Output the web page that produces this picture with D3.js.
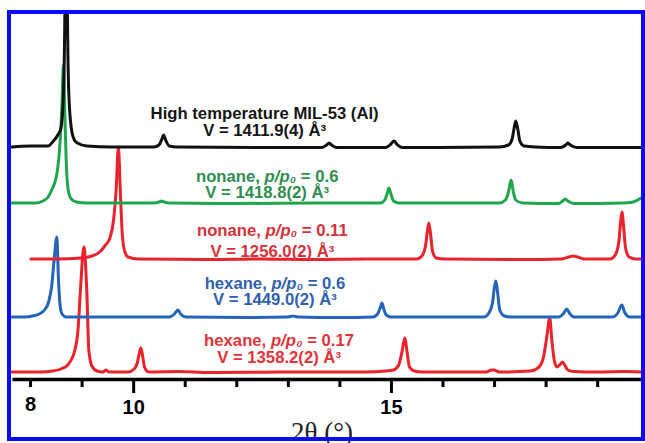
<!DOCTYPE html>
<html>
<head>
<meta charset="utf-8">
<script src="https://cdn.jsdelivr.net/npm/d3@7/dist/d3.min.js"></script>
<style>
  html, body { margin: 0; padding: 0; background: #fff; }
  svg { display: block; }
  text { font-family: "Liberation Sans", Arial, sans-serif; font-weight: bold; }
</style>
</head>
<body>
<svg id="chart" width="645" height="443"></svg>
<script>
// Powder patterns, [2θ (°), intensity (a.u.)], each above its own baseline.
const htMIL53 = [
  [7.65,1],[8.0,2],[8.35,2],[8.42,5],[8.55,14],[8.60,20],[8.65,57],[8.675,133],[8.70,300],
  [8.725,133],[8.75,57],[8.80,20],[8.86,8],[8.92,5],[9.1,2],[9.6,1],
  [10.40,1],[10.50,3],[10.55,8],[10.59,13],[10.63,8],[10.70,2],[10.85,1],
  [12.5,0.5],[13.65,0.5],[13.75,3],[13.80,5],[13.85,3],[13.95,0.5],
  [14.90,0.5],[15.0,4],[15.06,7],[15.11,4],[15.22,0.5],
  [17.1,1],[17.28,3],[17.35,9],[17.39,20],[17.42,27],[17.46,19],[17.50,7],[17.58,2],[17.8,1],
  [18.3,0.5],[18.39,3],[18.43,5],[18.48,3],[18.6,0.5],[19.85,0.5]
];
const nonane06 = [
  [7.65,1],[8.1,1],[8.25,3],[8.35,7],[8.42,14],[8.52,30],[8.58,60],[8.62,100],[8.646,139],
  [8.675,90],[8.70,45],[8.74,14],[8.80,5],[8.9,2],[9.1,1],
  [10.4,1],[10.5,2],[10.55,3],[10.6,2],[10.7,1],[12.0,0.5],[13.5,1],
  [14.80,1],[14.88,4],[14.93,11],[14.96,16],[15.0,10],[15.05,3],[15.15,1],
  [17.1,1],[17.22,4],[17.28,12],[17.33,24],[17.37,13],[17.42,4],[17.55,1],
  [18.25,0.5],[18.33,3],[18.38,5],[18.43,3],[18.55,0.5],[19.5,1],[19.7,2],[19.85,6]
];
const nonane011 = [
  [8.016,1],[8.5,1],[9.0,2],[9.2,4],[9.35,8],[9.45,14],[9.55,22],[9.62,40],[9.67,70],[9.713,113],
  [9.75,70],[9.79,25],[9.84,8],[9.9,3],[10.1,1],
  [11.5,0.5],[12.5,1],[13.5,0.5],[14.5,1],
  [15.5,1],[15.6,4],[15.67,14],[15.71,30],[15.736,37],[15.77,25],[15.81,8],[15.88,2],[16.05,1],
  [17.5,0.5],[18.3,1],[18.45,3],[18.53,4],[18.62,3],[18.75,1],
  [19.25,1],[19.35,5],[19.42,18],[19.455,38],[19.48,48],[19.51,35],[19.55,12],[19.62,3],[19.75,1],[19.85,1]
];
const hexane06 = [
  [7.65,1],[7.9,1],[8.05,2],[8.18,4],[8.28,8],[8.36,16],[8.42,32],[8.47,60],[8.52,81],
  [8.55,40],[8.58,14],[8.62,4],[8.7,1],[9.5,1],
  [10.7,1],[10.8,4],[10.87,8],[10.92,4],[11.02,1],
  [12.2,0.5],[13.0,1],[13.1,2],[13.2,1],[14.0,0.5],
  [14.65,1],[14.74,4],[14.79,10],[14.826,15],[14.86,9],[14.91,3],[15.0,1],[16.0,1],
  [16.8,1],[16.9,5],[16.97,15],[17.005,30],[17.036,37],[17.07,25],[17.11,8],[17.2,2],[17.35,1],
  [18.25,1],[18.34,4],[18.41,9],[18.46,5],[18.55,1],
  [19.3,1],[19.4,5],[19.48,13],[19.53,6],[19.63,1],[19.85,1]
];
const hexane017 = [
  [7.65,1],[8.2,1],[8.44,2],[8.6,4],[8.73,8],[8.87,23],[8.93,43],[8.98,85],[9.044,126],
  [9.10,83],[9.14,23],[9.20,7],[9.30,2],[9.42,1],[9.47,3],[9.53,1],
  [9.9,1],[10.02,4],[10.08,10],[10.12,20],[10.15,25],[10.18,18],[10.22,6],[10.3,1],
  [10.85,1.5],[11.5,0.5],[13.0,1],[14.5,1],[14.9,2],
  [15.05,3],[15.15,8],[15.21,20],[15.27,35],[15.31,22],[15.36,6],[15.45,2],[15.6,1],
  [16.85,1],[16.95,3],[17.0,3],[17.1,1],
  [17.7,2],[17.85,5],[17.95,14],[18.02,35],[18.08,55],[18.12,33],[18.17,12],
  [18.22,6],[18.29,9],[18.33,11],[18.37,8],[18.43,3],[18.55,1.5],[19.0,1],[19.5,1.5],[19.85,1]
];

// Stacking offsets of the baselines (a.u.), top pattern first.
const baselineOffsets = [231, 175, 119, 61, 6];
const adsorbates = ["High temperature MIL-53 (Al)", "nonane", "nonane", "hexane", "hexane"];
const pressures = [null, "0.6", "0.11", "0.6", "0.17"];
const cellVolumes = ["1411.9(4)", "1418.8(2)", "1256.0(2)", "1449.0(2)", "1358.2(2)"];
const xTicks = [8, 9, 10, 11, 12, 13, 14, 15, 16, 17, 18, 19];
const xTickLabels = { 8: "8", 10: "10", 15: "15" };

const patterns = [htMIL53, nonane06, nonane011, hexane06, hexane017];
const lineColors = ["#111111", "#1ea64c", "#e8232b", "#2565b9", "#ea2229"];
const textColors = ["#151515", "#2f8d50", "#d5323a", "#2f5fae", "#e0343a"];
// Label anchors: 2θ of the text centre, baseline of each line in a.u. above the pattern baseline.
const labelPos = [
  { t: 12.55, l1: 29, l2: 12 },
  { t: 12.6,  l1: 22, l2: 6 },
  { t: 12.7,  l1: 24, l2: 3 },
  { t: 12.75, l1: 29, l2: 13 },
  { t: 12.83, l1: 27, l2: 10 }
];

const W = 645, H = 443;
const svg = d3.select("#chart");
svg.append("rect").attr("width", W).attr("height", H).attr("fill", "#fff");

const x = d3.scaleLinear().domain([7.65, 19.85]).range([12, 641]);
const y = d3.scaleLinear().domain([0, 365]).range([379, 14]);

svg.append("clipPath").attr("id", "plotClip")
  .append("rect").attr("x", 11).attr("y", 14).attr("width", 630).attr("height", 423);

const line = d3.line()
  .x(d => x(d[0]))
  .y(d => y(d[1]))
  .curve(d3.curveMonotoneX);

const plot = svg.append("g").attr("clip-path", "url(#plotClip)");

// Draw bottom pattern first so upper traces sit on top.
for (let i = patterns.length - 1; i >= 0; i--) {
  const off = baselineOffsets[i];
  plot.append("path")
    .datum(patterns[i].map(p => [p[0], p[1] + off]))
    .attr("fill", "none")
    .attr("stroke", lineColors[i])
    .attr("stroke-width", 3)
    .attr("stroke-linejoin", "round")
    .attr("stroke-linecap", "round")
    .attr("d", line);
}

// Sample labels: sorbate with relative pressure, then refined cell volume
patterns.forEach((_, i) => {
  const pos = labelPos[i];
  const cx = x(pos.t);
  const g = svg.append("g").attr("fill", textColors[i]).style("font-size", "16.7px");
  const t1 = g.append("text").attr("x", cx).attr("y", y(baselineOffsets[i] + pos.l1))
    .attr("text-anchor", "middle");
  if (pressures[i] === null) {
    t1.text(adsorbates[i]);
  } else {
    t1.append("tspan").text(adsorbates[i] + ", ");
    t1.append("tspan").attr("font-style", "italic").text("p/p\u2080");
    t1.append("tspan").text(" = " + pressures[i]);
  }
  g.append("text").attr("x", cx).attr("y", y(baselineOffsets[i] + pos.l2))
    .attr("text-anchor", "middle")
    .text("V = " + cellVolumes[i] + " Å\u00B3");
});

// Bottom axis
const axis = d3.axisBottom(x)
  .tickValues(xTicks)
  .tickSize(8)
  .tickSizeOuter(0)
  .tickFormat(d => xTickLabels[d] || "");
const ax = svg.append("g").attr("transform", "translate(0,379)").call(axis);
ax.select(".domain").attr("stroke", "#000").attr("stroke-width", 3.5);
ax.selectAll(".tick line")
  .attr("stroke", "#000").attr("stroke-width", 3)
  .attr("y2", d => (xTickLabels[d] && d !== 8) ? 14 : 8);
ax.selectAll(".tick text")
  .attr("fill", "#000")
  .style("font-size", "20px")
  .style("font-family", "'Liberation Sans', Arial, sans-serif")
  .style("font-weight", "bold")
  .attr("y", d => d === 8 ? 18 : 21);

svg.append("text")
  .attr("x", 322).attr("y", 441)
  .attr("text-anchor", "middle")
  .style("font-family", "'Liberation Serif', 'Times New Roman', serif")
  .style("font-weight", "normal")
  .style("font-size", "27px")
  .attr("fill", "#222")
  .text("2θ (°)");

// Frame
svg.append("rect")
  .attr("x", 9).attr("y", 12).attr("width", 634).attr("height", 427)
  .attr("fill", "none").attr("stroke", "#0a0af5").attr("stroke-width", 4);
</script>
</body>
</html>
